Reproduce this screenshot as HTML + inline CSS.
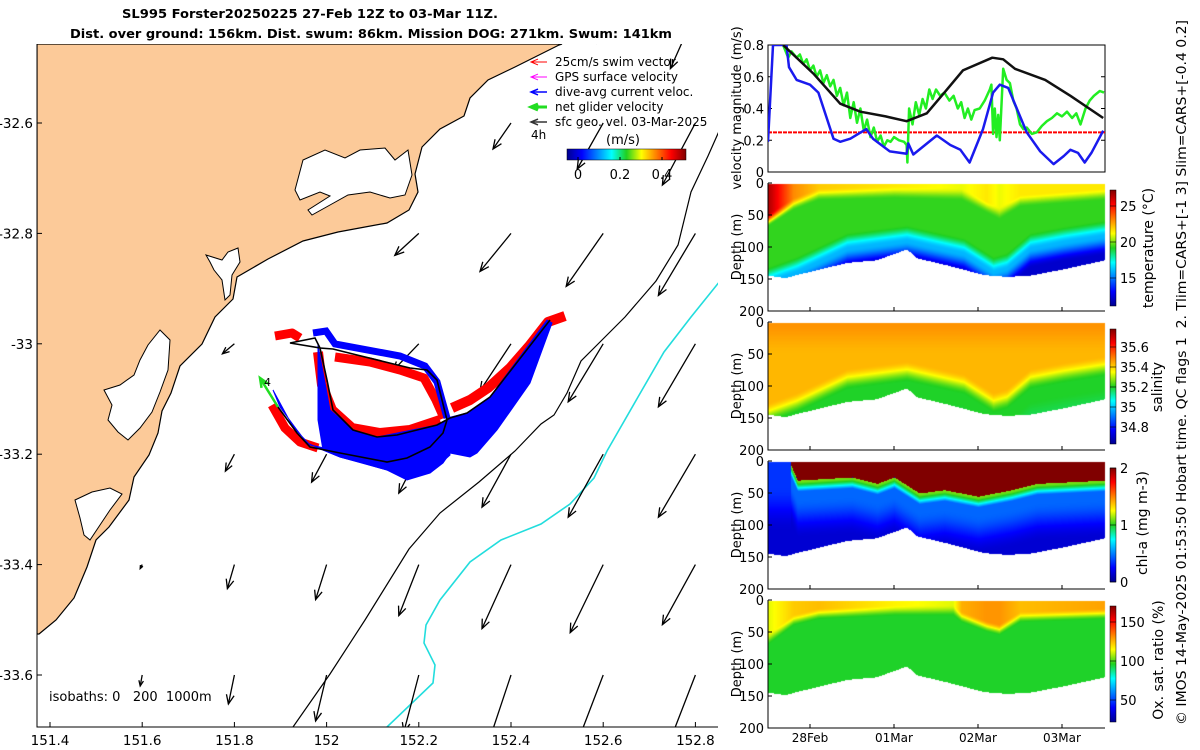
<!DOCTYPE html>
<html><head><meta charset="utf-8">
<style>
html,body{margin:0;padding:0;background:#fff;}
#wrap{position:relative;width:1200px;height:750px;overflow:hidden;font-family:"DejaVu Sans","Liberation Sans",sans-serif;}
svg text{font-family:"DejaVu Sans","Liberation Sans",sans-serif;white-space:pre;}
canvas{position:absolute;left:0;top:0;}
</style></head>
<body>
<div id="wrap">
<canvas id="sec" width="1200" height="750"></canvas>
<svg id="svg" width="1200" height="750" style="position:absolute;left:0;top:0">
<defs>
<linearGradient id="jetH" x1="0" x2="1" y1="0" y2="0">
<stop offset="0" stop-color="#00008f"/><stop offset="0.125" stop-color="#0000ff"/><stop offset="0.375" stop-color="#00ffff"/><stop offset="0.5" stop-color="#20d020"/><stop offset="0.625" stop-color="#ffff00"/><stop offset="0.875" stop-color="#ff0000"/><stop offset="1" stop-color="#800000"/></linearGradient>
<linearGradient id="jetV" x1="0" x2="0" y1="1" y2="0">
<stop offset="0" stop-color="#00008f"/><stop offset="0.125" stop-color="#0000ff"/><stop offset="0.375" stop-color="#00ffff"/><stop offset="0.5" stop-color="#20d020"/><stop offset="0.625" stop-color="#ffff00"/><stop offset="0.875" stop-color="#ff0000"/><stop offset="1" stop-color="#800000"/></linearGradient>
<clipPath id="mapClip"><rect x="37" y="44" width="681" height="683"/></clipPath>
<clipPath id="velClip"><rect x="768" y="45" width="337" height="127"/></clipPath>
</defs>

<text x="122" y="18" font-size="12" font-weight="bold" textLength="376" lengthAdjust="spacingAndGlyphs">SL995 Forster20250225 27-Feb 12Z to 03-Mar 11Z.</text>
<text x="70" y="38" font-size="12" font-weight="bold" textLength="602" lengthAdjust="spacingAndGlyphs">Dist. over ground: 156km. Dist. swum: 86km. Mission DOG: 271km. Swum: 141km</text>

<g id="map"></g>
<g id="right"></g>

<text transform="translate(1186,725) rotate(-90)" font-size="13" textLength="705" lengthAdjust="spacingAndGlyphs">© IMOS 14-May-2025 01:53:50 Hobart time. QC flags 1  2. Tlim=CARS+[-1 3] Slim=CARS+[-0.4 0.2]</text>
</svg>
</div>
<script>
// ---------- MAP DATA ----------
const lonTicks=[151.4,151.6,151.8,152,152.2,152.4,152.6,152.8];
const latTicks=[-32.6,-32.8,-33,-33.2,-33.4,-33.6];
const arrowLons=[151.6,151.8,152,152.2,152.4,152.6,152.8];
const arrowLats=[-32.4,-32.6,-32.8,-33,-33.2,-33.4,-33.6];
const arrowU=[
[null,null,null,null,null,-0.06,-0.25],
[null,null,null,null,-0.18,-0.26,-0.33],
[null,null,null,-0.24,-0.31,-0.37,-0.37],
[null,-0.12,null,-0.26,-0.31,-0.35,-0.37],
[null,-0.09,-0.15,-0.20,-0.29,-0.35,-0.37],
[-0.02,-0.07,-0.11,-0.20,-0.29,-0.33,-0.33],
[-0.02,-0.06,-0.11,-0.15,-0.22,-0.26,-0.24]];
const arrowV=[
[null,null,null,null,null,-0.30,-0.56],
[null,null,null,null,-0.26,-0.46,-0.62],
[null,null,null,-0.22,-0.38,-0.53,-0.62],
[null,-0.10,null,-0.27,-0.47,-0.58,-0.63],
[null,-0.17,-0.28,-0.39,-0.53,-0.63,-0.63],
[-0.04,-0.24,-0.35,-0.51,-0.64,-0.68,-0.60],
[-0.11,-0.29,-0.46,-0.57,-0.66,-0.68,-0.62]];

function X(lon){return 50+(lon-151.4)*461;}
function Y(lat){return 123+(lat+32.6)*(-552);}
const NS="http://www.w3.org/2000/svg";
function el(tag,attrs,parent){const e=document.createElementNS(NS,tag);for(const k in attrs)e.setAttribute(k,attrs[k]);parent.appendChild(e);return e;}

const map=document.getElementById('map');
const mapInner=el('g',{'clip-path':'url(#mapClip)'},map);


const land=el('path',{fill:'#fcca99',stroke:'#000','stroke-width':1.2,d:'M37,44 L562,44 L559,45 L515,67 L488,80 L470,98 L464,116 L440,129 L422,147 L415,174 L418,192 L409,210 L387,223 L365,227 L338,232 L303,241 L268,259 L237,277 L233,299 L215,317 L202,344 L180,366 L171,393 L162,411 L158,433 L149,455 L134,477 L129,500 L109,527 L96,540 L87,567 L74,598 L56,620 L39,634 L37,634 Z'},mapInner);


const lakes=['M295,190 L303,160 L325,150 L345,158 L360,150 L385,148 L395,160 L408,150 L412,175 L405,195 L390,198 L370,192 L348,195 L330,205 L312,215 L308,210 L330,196 L320,192 L300,200 Z',
'M206,255 L222,260 L228,252 L238,248 L240,262 L232,275 L230,295 L225,300 L222,280 L214,270 L210,262 Z',
'M104,390 L120,385 L134,375 L140,360 L148,345 L160,330 L170,340 L168,370 L160,392 L152,412 L140,428 L128,440 L118,432 L108,420 L112,405 Z',
'M75,500 L92,492 L110,488 L122,494 L110,510 L100,525 L90,540 L84,535 L80,518 Z'];
lakes.forEach((d,i)=>{const l=el('path',{d:d,fill:'#fff',stroke:'#000','stroke-width':1},mapInner);});
const iso200=el('polyline',{fill:'none',stroke:'#000','stroke-width':1.2,points:'293,727 330,674 365,620 409,549 440,513 479,482 515,451 541,424 554,415 567,393 581,361 598,344 625,317 656,281 678,245 691,192 708,156 720,129'},mapInner);


const iso1000=el('polyline',{fill:'none',stroke:'#22dddd','stroke-width':1.6,points:'387,727 433,683 435,665 424,643 426,625 440,600 470,562 501,540 541,524 570,504 594,478 607,451 638,397 664,352 691,317 720,281'},mapInner);


const SC=100;
function arrow(x1,y1,x2,y2,parent,color,w){
  const g=el('g',{},parent);
  el('line',{x1:x1,y1:y1,x2:x2,y2:y2,stroke:color,'stroke-width':w},g);
  const a=Math.atan2(y2-y1,x2-x1),L=Math.min(10,Math.hypot(x2-x1,y2-y1)*0.35+2);
  const p1=[x2-L*Math.cos(a-0.4),y2-L*Math.sin(a-0.4)],p2=[x2-L*Math.cos(a+0.4),y2-L*Math.sin(a+0.4)];
  el('polyline',{points:p1.join(',')+' '+x2+','+y2+' '+p2.join(','),fill:'none',stroke:color,'stroke-width':w},g);
  return g;
}
arrowLats.forEach((lat,i)=>arrowLons.forEach((lon,j)=>{
  const u=arrowU[i][j],v=arrowV[i][j]; if(u===null)return;
  const x1=X(lon),y1=Y(lat);
  const g=arrow(x1,y1,x1+u*SC,y1-v*SC,mapInner,'#000',1.3);
  
  
}));
const red=el('g',{fill:'none',stroke:'#ff0000','stroke-linejoin':'round'},mapInner);


el('polyline',{points:'275,336 292,333 300,338','stroke-width':9},red);
el('polyline',{points:'318,352 322,385 332,410 352,428 380,433 410,430 440,420','stroke-width':10},red);
el('polyline',{points:'335,357 370,362 400,370 424,378 436,400 444,418','stroke-width':9},red);
el('polyline',{points:'272,405 285,428 300,442 318,448','stroke-width':9},red);
el('polyline',{points:'452,408 470,400 488,388 510,368 530,345 548,322 565,316','stroke-width':10},red);
const blue=el('g',{fill:'#0000ff',stroke:'#0000ff'},mapInner);


el('polygon',{points:'273,390 280,407 297,430 307,443 323,450 340,457 363,463 387,470 407,480 430,473 443,463 450,453 470,457 477,453 497,430 530,383 552,323 547,320 490,397 467,413 447,418 443,433 430,447 407,457 383,462 343,452 310,445 293,427','stroke-width':1},blue);
el('polygon',{points:'318,345 330,410 353,430 377,437 437,425 447,420 450,455 430,473 387,470 340,457 323,450 318,420','stroke-width':1},blue);
el('polyline',{points:'313,333 326,331 335,344 400,356 425,366 437,382 447,418',fill:'none','stroke-width':7},blue);
const track=el('polyline',{fill:'none',stroke:'#000','stroke-width':1.6,points:'278,407 297,433 310,447 340,453 387,462 407,458 430,447 443,433 447,420 437,380 427,370 410,368 357,355 333,349 320,348 315,338 290,343 320,348 327,380 333,410 353,430 377,437 397,435 437,425 450,418 467,413 490,397 550,320'},mapInner);


const ng=arrow(278,407,260,378,mapInner,'#22dd22',2.5);


const t4=el('text',{x:264,y:386,'font-size':11},mapInner);t4.textContent='4';


const isoT=el('text',{x:49,y:701,'font-size':13},map);isoT.textContent='isobaths: 0   200  1000m';


const leg=el('g',{'font-size':12},map);


const legItems=[['25cm/s swim vector','#ff0000',1],['GPS surface velocity','#ff00ff',1],['dive-avg current veloc.','#0000ff',1.5],['net glider velocity','#22dd22',3],['sfc geo. vel. 03-Mar-2025','#333',1.5]];
legItems.forEach((it,i)=>{const y=66+i*15;
  const a=arrow(547,y-4,531,y-4,leg,it[1],it[2]);
  
  
  const t=el('text',{x:555,y:y},leg);t.textContent=it[0];
  
  });
const h4=el('text',{x:531,y:139,'font-size':12},leg);h4.textContent='4h';
const ms=el('text',{x:606,y:144,'font-size':13},leg);ms.textContent='(m/s)';
const cb=el('rect',{x:567,y:149,width:119,height:11,fill:'url(#jetH)',stroke:'#000','stroke-width':0.5},leg);


[[0,578],[0.2,620],[0.4,662]].forEach(p=>{el('line',{x1:p[1],x2:p[1],y1:160,y2:157,stroke:'#000'},leg);const t=el('text',{x:p[1],y:179,'font-size':13,'text-anchor':'middle'},leg);t.textContent=p[0];});
el('polyline',{points:'37,44 37,727 718,727',fill:'none',stroke:'#000','stroke-width':1},map);
lonTicks.forEach(l=>{const x=X(l);el('line',{x1:x,x2:x,y1:727,y2:722,stroke:'#000'},map);
  const t=el('text',{x:x,y:745,'font-size':13.5,'text-anchor':'middle'},map);t.textContent=String(l);
  });
latTicks.forEach(l=>{const y=Y(l);el('line',{x1:37,x2:42,y1:y,y2:y,stroke:'#000'},map);
  const t=el('text',{x:33,y:y+5,'font-size':13.5,'text-anchor':'end'},map);t.textContent=String(l);
  });

// ---------- RIGHT PANELS DATA ----------
const dayTicks=[0.5,1.5,2.5,3.5];
const dayLabels=['28Feb','01Mar','02Mar','03Mar'];
const velTicks=[0,0.2,0.4,0.6,0.8];
const blackT=[0.18,0.54,0.86,1.1,1.4,1.65,1.89,2.1,2.32,2.67,2.80,2.94,3.3,3.6,3.99];
const blackV=[0.80,0.62,0.43,0.38,0.35,0.32,0.37,0.50,0.64,0.72,0.71,0.65,0.58,0.48,0.34];
const blueT=[0.0,0.06,0.22,0.25,0.34,0.50,0.60,0.78,0.86,0.98,1.17,1.25,1.45,1.65,1.67,1.73,2.01,2.17,2.29,2.40,2.56,2.68,2.76,2.86,3.08,3.24,3.40,3.52,3.60,3.69,3.77,3.85,3.99];
const blueV=[0.19,0.8,0.8,0.66,0.58,0.55,0.50,0.21,0.19,0.21,0.27,0.21,0.13,0.115,0.18,0.11,0.23,0.17,0.14,0.06,0.27,0.50,0.55,0.53,0.25,0.13,0.05,0.10,0.14,0.12,0.06,0.12,0.26];
const greenT=[0.18,0.24,0.28,0.34,0.38,0.42,0.46,0.50,0.54,0.58,0.62,0.66,0.70,0.74,0.78,0.82,0.86,0.90,0.94,0.98,1.02,1.06,1.10,1.14,1.18,1.22,1.26,1.30,1.34,1.38,1.42,1.46,1.50,1.56,1.62,1.65,1.66,1.68,1.72,1.76,1.80,1.84,1.88,1.92,1.96,2.00,2.05,2.10,2.16,2.21,2.26,2.30,2.34,2.38,2.42,2.46,2.52,2.58,2.64,2.66,2.68,2.70,2.72,2.74,2.76,2.80,2.84,2.88,2.92,2.96,3.00,3.04,3.08,3.14,3.20,3.26,3.32,3.38,3.44,3.50,3.56,3.62,3.67,3.72,3.78,3.83,3.88,3.95,4.0];
const greenV=[0.80,0.72,0.76,0.72,0.74,0.68,0.71,0.64,0.67,0.60,0.64,0.56,0.61,0.54,0.58,0.48,0.53,0.42,0.50,0.34,0.44,0.31,0.40,0.26,0.33,0.22,0.28,0.19,0.23,0.16,0.20,0.19,0.22,0.20,0.19,0.17,0.06,0.40,0.30,0.44,0.36,0.46,0.40,0.52,0.46,0.52,0.48,0.50,0.45,0.48,0.40,0.44,0.34,0.40,0.33,0.39,0.40,0.45,0.52,0.55,0.24,0.40,0.22,0.36,0.20,0.65,0.58,0.56,0.45,0.40,0.30,0.27,0.28,0.24,0.25,0.29,0.32,0.34,0.37,0.35,0.38,0.34,0.37,0.30,0.40,0.45,0.48,0.51,0.50];
const swimRef=0.25;
const secT=[0,0.2,0.34,0.94,1.29,1.65,1.77,2.13,2.56,2.84,3.12,3.52,4.01];
const bottomDepth=[144,148,143,124,120,103,117,128,143,146,144,134,120];
const thermoT=[0,0.34,0.94,1.65,2.33,2.68,2.84,3.12,3.52,4.01];
const thermoDepth=[150,134,97,85,105,134,128,97,87,77];
const mldT=[0,0.3,0.6,1.5,2.3,2.6,2.75,3.0,4.0];
const mldDepth=[55,30,15,12,15,35,45,25,15];
const surfTemp=[26.5,23,22,21.5,21,21.5,21,21.5,21.5];
const chlT=[0,0.25,0.35,1.0,1.3,1.5,1.8,2.1,2.5,2.9,3.2,4.0];
const chlBase=[0,0,30,25,35,25,50,45,55,45,35,30];
const oxT=[0,0.3,0.6,1.5,2.2,2.3,2.6,2.75,3.0,4.0];
const oxSurfDepth=[60,30,20,15,15,25,40,45,25,20];
const oxSurf=[112,122,124,116,112,126,130,130,124,128];

const T0=768,T1=1105;
function TX(t){return 768+t*84;}
function VY(v){return 172-v/0.8*127;}
function interp(ts,vs,t){if(t<=ts[0])return vs[0];for(let i=1;i<ts.length;i++){if(t<=ts[i]){const f=(t-ts[i-1])/(ts[i]-ts[i-1]);return vs[i-1]+f*(vs[i]-vs[i-1]);}}return vs[vs.length-1];}
function jet(x){x=Math.max(0,Math.min(1,x));
  const st=[[0,0,0,143],[0.125,0,0,255],[0.375,0,255,255],[0.5,32,208,32],[0.625,255,255,0],[0.875,255,0,0],[1,128,0,0]];
  for(let i=1;i<st.length;i++)if(x<=st[i][0]){const f=(x-st[i-1][0])/(st[i][0]-st[i-1][0]);return [0,1,2].map(k=>Math.round(st[i-1][k+1]+f*(st[i][k+1]-st[i-1][k+1])));}
  return [128,0,0];}
function sm(e0,e1,x){const f=Math.max(0,Math.min(1,(x-e0)/(e1-e0)));return f*f*(3-2*f);}

const panels=[
 {top:183,name:'temperature',min:11.1,max:27.2,fn:(t,d)=>{const mld=interp(mldT,mldDepth,t),th=interp(thermoT,thermoDepth,t),st=interp(mldT,surfTemp,t);
   let v=st+(19.3-st)*sm(mld-8,mld+12,d); v+=(16-19.3)*sm(th-20,th+5,d); v+=(12.2-16)*sm(th+5,th+35,d); return v;}},
 {top:322,name:'salinity',min:34.63,max:35.78,fn:(t,d)=>{const th=interp(thermoT,thermoDepth,t);let v=35.47-0.04*sm(0,50,d);v+=(35.2-35.43)*sm(th-25,th+8,d);v-=0.12*sm(th+25,th+50,d)*(t<0.8||(t>2.2&&t<2.7)?1:0.2);return v;}},
 {top:461,name:'chlorophyll',min:0,max:2,fn:(t,d)=>{const b=interp(chlT,chlBase,t);if(b<5){return 0.35-0.2*sm(40,110,d);}
   let v=(b>d?2.3:0); if(d>b)v=Math.max(1.1*(1-sm(b,b+30,d)),0.45-0.3*sm(b+30,b+90,d)); return Math.max(v,0.12);}},
 {top:600,name:'oxygen',min:21,max:170.5,fn:(t,d)=>{const s=interp(oxT,oxSurfDepth,t),sv=interp(oxT,oxSurf,t);return sv+(95-sv)*sm(s-8,s+10,d);}}
];
const ctx=document.getElementById('sec').getContext('2d');
panels.forEach(p=>{
  const H=128;const img=ctx.createImageData(T1-T0,H);
  for(let x=0;x<T1-T0;x++){const t=x/84;const bd=interp(secT,bottomDepth,t);
    for(let y=0;y<H;y++){const d=y/H*200;const i=(y*(T1-T0)+x)*4;
      if(d>bd||d<1){img.data[i]=255;img.data[i+1]=255;img.data[i+2]=255;img.data[i+3]=255;continue;}
      const c=jet((p.fn(t,d)-p.min)/(p.max-p.min));img.data[i]=c[0];img.data[i+1]=c[1];img.data[i+2]=c[2];img.data[i+3]=255;}}
  ctx.putImageData(img,T0,p.top);
});

const R=document.getElementById('right');
const vp=el('g',{},R);


el('rect',{x:768,y:45,width:337,height:127,fill:'none',stroke:'#000','stroke-width':1},vp);
velTicks.forEach(v=>{const y=VY(v);el('line',{x1:768,x2:772,y1:y,y2:y,stroke:'#000'},vp);el('line',{x1:1105,x2:1101,y1:y,y2:y,stroke:'#000'},vp);
  const t=el('text',{x:764,y:y+5,'font-size':13,'text-anchor':'end'},vp);t.textContent=String(v);
  });
const vl=el('text',{transform:'translate(741,108) rotate(-90)','font-size':13,'text-anchor':'middle'},vp);vl.textContent='velocity magnitude (m/s)';

const vc=el('g',{'clip-path':'url(#velClip)'},vp);
const refL=el('line',{x1:768,x2:1105,y1:VY(swimRef),y2:VY(swimRef),stroke:'#ff0000','stroke-width':2,'stroke-dasharray':'4 1'},vc);

function series(ts,vs,color,w,name){const pts=ts.map((t,i)=>TX(t).toFixed(1)+','+VY(vs[i]).toFixed(1)).join(' ');
  const l=el('polyline',{points:pts,fill:'none',stroke:color,'stroke-width':w,'stroke-linejoin':'round'},vc);
  }
series(greenT,greenV,'#22ee22',2.5,'net-glider-speed-line');
series(blueT,blueV,'#1a1aee',2.5,'dive-avg-current-line');
series(blackT,blackV,'#111',2.5,'surface-geo-velocity-line');

const cbars=[
 {top:190,bot:306,ticks:[[25,206],[20,242],[15,278]],label:'temperature (°C)',ly:248,lx:1153},
 {top:329,bot:444,ticks:[[35.6,347],[35.4,367],[35.2,387],[35,407],[34.8,427]],label:'salinity',ly:387,lx:1162},
 {top:468,bot:582,ticks:[[2,468],[1,525],[0,582]],label:'chl-a (mg m-3)',ly:523,lx:1147},
 {top:606,bot:722,ticks:[[150,622],[100,661],[50,700]],label:'Ox. sat. ratio (%)',ly:660,lx:1163}];
const depthTicks=[0,50,100,150,200];
panels.forEach((p,k)=>{
  const g=el('g',{},R);
  
  
  el('polyline',{points:`768,${p.top} 768,${p.top+128} 1105,${p.top+128}`,fill:'none',stroke:'#000','stroke-width':1},g);
  depthTicks.forEach(d=>{const y=p.top+d/200*128;el('line',{x1:768,x2:772,y1:y,y2:y,stroke:'#000'},g);
    const t=el('text',{x:764,y:y+5,'font-size':13,'text-anchor':'end'},g);t.textContent=String(d);
    });
  const yl=el('text',{transform:`translate(741,${p.top+64}) rotate(-90)`,'font-size':13,'text-anchor':'middle'},g);yl.textContent='Depth (m)';
  
  dayTicks.forEach(t=>{el('line',{x1:TX(t),x2:TX(t),y1:p.top+128,y2:p.top+124,stroke:'#000'},g);});
  const c=cbars[k];
  const r=el('rect',{x:1110,y:c.top,width:6,height:c.bot-c.top,fill:'url(#jetV)',stroke:'#000','stroke-width':0.5},g);
  
  c.ticks.forEach(tk=>{el('line',{x1:1110,x2:1116,y1:tk[1],y2:tk[1],stroke:'#000','stroke-width':0.6},g);
    const t=el('text',{x:1120,y:tk[1]+5,'font-size':13},g);t.textContent=String(tk[0]);
    });
  const cl=el('text',{transform:`translate(${c.lx},${c.ly}) rotate(-90)`,'font-size':14,'text-anchor':'middle'},g);cl.textContent=c.label;
  
});
dayTicks.forEach((t,i)=>{const tx=el('text',{x:TX(t),y:742,'font-size':12,'text-anchor':'middle'},R);tx.textContent=dayLabels[i];
  });
</script>
</body></html>
